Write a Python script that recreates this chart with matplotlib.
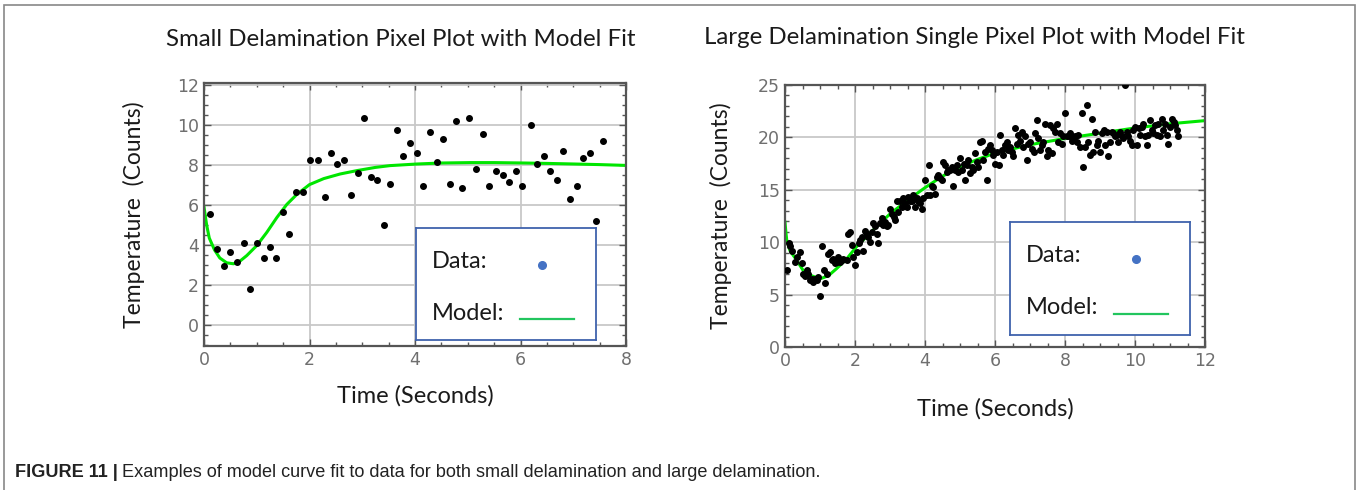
import matplotlib
matplotlib.use("Agg")
from matplotlib import pyplot as plt
from matplotlib.ticker import MultipleLocator
from matplotlib.patches import Rectangle

# ---- small delamination (left) ----
small_t = [0.11, 0.24, 0.37, 0.49, 0.62, 0.75, 0.87, 1.00, 1.13, 1.25, 1.37, 1.49,
           1.62, 1.75, 1.87, 2.00, 2.16, 2.29, 2.41, 2.53, 2.66, 2.79, 2.91, 3.03,
           3.16, 3.28, 3.41, 3.53, 3.65, 3.78, 3.91, 4.03, 4.16, 4.28, 4.41, 4.53,
           4.66, 4.78, 4.90, 5.03, 5.16, 5.28, 5.40, 5.53, 5.66, 5.78, 5.91, 6.02,
           6.19, 6.32, 6.45, 6.56, 6.69, 6.81, 6.94, 7.07, 7.19, 7.31, 7.44, 7.57]
small_v = [5.54, 3.80, 2.93, 3.67, 3.14, 4.12, 1.82, 4.12, 3.36, 3.88, 3.36, 5.65,
           4.56, 6.63, 6.63, 8.25, 8.25, 6.40, 8.60, 8.03, 8.25, 6.50, 7.60, 10.33,
           7.39, 7.27, 4.99, 7.06, 9.75, 8.46, 9.12, 8.58, 6.94, 9.65, 8.15, 9.32,
           7.06, 10.21, 6.84, 10.33, 7.82, 9.55, 6.94, 7.72, 7.49, 7.17, 7.72, 6.94,
           9.98, 8.03, 8.46, 7.72, 7.27, 8.68, 6.28, 6.94, 8.35, 8.58, 5.21, 9.22]
small_model_t = [0, 0.05, 0.1, 0.2, 0.3, 0.43, 0.56, 0.68, 0.81, 1.0, 1.19, 1.38,
                 1.57, 1.76, 2.0, 2.27, 2.58, 2.9, 3.25, 3.53, 4.04, 4.5, 5.05,
                 5.5, 6.07, 6.5, 7.02, 7.5, 8.0]
small_model_v = [5.9, 5.0, 4.35, 3.75, 3.35, 3.11, 3.06, 3.19, 3.47, 3.97, 4.63, 5.37,
                 6.03, 6.53, 7.02, 7.32, 7.55, 7.72, 7.88, 7.97, 8.05, 8.1, 8.12,
                 8.12, 8.1, 8.08, 8.05, 8.02, 7.98]

# ---- large delamination (right) ----
large_t = [0.05, 0.10, 0.14, 0.19, 0.29, 0.33, 0.43, 0.48, 0.52, 0.57, 0.62, 0.67,
           0.71, 0.76, 0.81, 0.86, 0.90, 0.95, 1.00, 1.05, 1.10, 1.14, 1.19, 1.24,
           1.29, 1.33, 1.38, 1.43, 1.48, 1.52, 1.57, 1.62, 1.67, 1.76, 1.81, 1.86,
           1.90, 1.95, 2.00, 2.05, 2.10, 2.14, 2.19, 2.24, 2.29, 2.33, 2.38, 2.43,
           2.48, 2.52, 2.57, 2.62, 2.67, 2.71, 2.76, 2.81, 2.86, 2.90, 2.95, 3.00,
           3.05, 3.10, 3.14, 3.19, 3.24, 3.29, 3.33, 3.38, 3.43, 3.48, 3.52, 3.57,
           3.62, 3.67, 3.71, 3.76, 3.81, 3.86, 3.90, 3.95, 4.00, 4.05, 4.10, 4.14,
           4.19, 4.24, 4.29, 4.33, 4.38, 4.43, 4.48, 4.52, 4.57, 4.62, 4.67, 4.71,
           4.76, 4.81, 4.86, 4.90, 4.95, 5.00, 5.05, 5.10, 5.14, 5.19, 5.24, 5.29,
           5.33, 5.38, 5.43, 5.48, 5.52, 5.57, 5.62, 5.67, 5.71, 5.76, 5.81, 5.86,
           5.90, 5.95, 6.00, 6.05, 6.10, 6.14, 6.19, 6.24, 6.29, 6.33, 6.38, 6.43,
           6.48, 6.52, 6.57, 6.62, 6.67, 6.71, 6.76, 6.81, 6.86, 6.90, 6.95, 7.00,
           7.05, 7.10, 7.14, 7.19, 7.24, 7.29, 7.33, 7.38, 7.43, 7.48, 7.52, 7.57,
           7.62, 7.67, 7.71, 7.76, 7.81, 7.86, 7.90, 7.95, 8.00, 8.05, 8.10, 8.14,
           8.19, 8.24, 8.29, 8.33, 8.38, 8.43, 8.48, 8.52, 8.57, 8.62, 8.67, 8.71,
           8.76, 8.81, 8.86, 8.90, 8.95, 9.00, 9.05, 9.10, 9.14, 9.19, 9.24, 9.29,
           9.33, 9.38, 9.43, 9.48, 9.52, 9.57, 9.62, 9.67, 9.71, 9.76, 9.81, 9.86,
           9.90, 9.95, 10.00, 10.05, 10.10, 10.14, 10.19, 10.24, 10.29, 10.33, 10.38,
           10.43, 10.48, 10.52, 10.57, 10.62, 10.67, 10.71, 10.76, 10.81, 10.86,
           10.90, 10.95, 11.00, 11.05, 11.10, 11.14, 11.19, 11.24]
large_v = [7.3, 9.9, 9.6, 9.2, 8.1, 8.6, 9.1, 8.0, 7.0, 6.8, 7.3, 7.0,
           6.4, 6.5, 6.2, 6.5, 6.4, 6.7, 4.9, 9.6, 7.3, 6.1, 7.0, 8.9,
           9.1, 8.3, 8.4, 8.0, 8.1, 8.6, 8.1, 8.3, 8.4, 8.3, 10.8, 11.0,
           9.7, 8.6, 7.8, 9.1, 9.9, 10.2, 10.5, 9.2, 11.1, 10.8, 10.5, 10.0,
           11.0, 11.8, 11.5, 10.8, 9.9, 11.8, 12.3, 11.6, 11.9, 11.5, 11.6, 13.2,
           12.7, 12.4, 12.1, 13.9, 12.9, 13.9, 13.4, 14.2, 13.7, 13.4, 14.3, 13.9,
           13.9, 14.5, 13.4, 14.2, 13.9, 13.7, 13.2, 14.2, 15.9, 14.5, 17.4, 14.5,
           15.4, 15.3, 14.6, 16.2, 16.4, 16.1, 15.9, 17.7, 17.4, 16.7, 16.9, 16.9,
           17.2, 15.4, 16.9, 17.4, 16.7, 18.0, 16.9, 17.5, 15.9, 17.4, 17.8, 16.6,
           17.2, 16.9, 18.5, 17.7, 17.2, 19.6, 19.7, 17.8, 18.6, 15.9, 18.9, 19.3,
           18.8, 18.3, 17.5, 18.6, 17.4, 20.2, 18.8, 18.3, 19.3, 19.6, 18.8, 19.1,
           18.6, 18.2, 20.9, 19.4, 20.2, 19.7, 20.5, 19.1, 20.1, 17.8, 19.4, 19.6,
           18.9, 18.6, 20.4, 21.7, 19.9, 18.8, 19.3, 19.6, 21.3, 18.2, 18.8, 21.2,
           18.5, 20.9, 20.5, 21.3, 19.6, 20.4, 19.4, 20.1, 22.3, 20.1, 20.1, 20.4,
           19.7, 19.9, 20.1, 19.6, 20.2, 19.1, 22.3, 17.2, 19.1, 23.1, 19.6, 18.3,
           21.8, 18.6, 20.5, 19.3, 19.7, 18.6, 20.4, 20.7, 19.3, 20.5, 18.2, 19.6,
           20.5, 20.4, 20.1, 20.2, 19.6, 20.5, 20.1, 19.9, 25.0, 20.5, 20.1, 19.7,
           19.3, 20.7, 21.0, 19.3, 20.9, 20.2, 21.0, 21.3, 20.1, 19.3, 20.2,
           21.7, 20.7, 20.4, 21.2, 20.2, 21.3, 20.1, 21.8, 20.7, 21.3,
           20.2, 19.4, 21.0, 21.8, 21.5, 21.2, 20.7, 20.1]
large_model_t = [0, 0.03, 0.05, 0.14, 0.33, 0.52, 0.76, 1.0, 1.24, 1.48, 1.76, 2.05,
                 2.5, 3.0, 3.5, 4.0, 4.5, 5.0, 5.5, 6.0, 6.5, 7.0, 8.0, 9.0, 10.0,
                 11.0, 12.0]
large_model_v = [11.9, 10.8, 10.2, 9.2, 8.3, 7.3, 6.8, 6.5, 6.8, 7.5, 8.4, 9.6,
                 11.1, 12.7, 14.0, 15.2, 16.3, 17.2, 17.9, 18.5, 18.9, 19.3, 19.9,
                 20.4, 20.9, 21.3, 21.6]

label_font = ['Lato', 'DejaVu Sans']
green = '#00e600'
W, H = 1357, 490


def style_axes(ax, xlim, ylim, xmaj, xmin, ymaj, ymin):
    ax.set_xlim(*xlim)
    ax.set_ylim(*ylim)
    ax.xaxis.set_major_locator(MultipleLocator(xmaj))
    ax.xaxis.set_minor_locator(MultipleLocator(xmin))
    ax.yaxis.set_major_locator(MultipleLocator(ymaj))
    ax.yaxis.set_minor_locator(MultipleLocator(ymin))
    ax.grid(True, which='major', color='#c8c8c8', linewidth=1.3)
    ax.set_axisbelow(True)
    for s in ax.spines.values():
        s.set_color('#555555')
        s.set_linewidth(1.6)
    ax.tick_params(which='both', direction='in', top=True, right=True,
                   colors='#555555', labelcolor='#6f6f6f', labelsize=12.5)
    ax.tick_params(which='major', length=5, width=1)
    ax.tick_params(which='minor', length=3, width=1)


def legend_box(rect):
    bx = fig.add_axes(rect)
    bx.set_xlim(0, 1)
    bx.set_ylim(0, 1)
    bx.set_xticks([])
    bx.set_yticks([])
    for s in bx.spines.values():
        s.set_color('#3f62ad')
        s.set_linewidth(1.3)
    bx.text(0.09, 0.70, 'Data:', fontsize=17, family=label_font, va='center', color='#1a1a1a')
    bx.text(0.09, 0.24, 'Model:', fontsize=17, family=label_font, va='center', color='#1a1a1a')
    bx.plot([0.7], [0.67], 'o', color='#4472c4', markersize=5.5)
    bx.plot([0.58, 0.88], [0.19, 0.19], color='#22c55e', linewidth=1.6)


fig = plt.figure(figsize=(W / 100, H / 100), dpi=100)

ax1 = fig.add_axes([204 / W, 1 - 346 / H, 422 / W, 263 / H])
ax1.plot(small_model_t, small_model_v, color=green, linewidth=2.2, zorder=2)
ax1.scatter(small_t, small_v, s=16, color='black', zorder=3)
style_axes(ax1, (0, 8), (-1.05, 12.1), 2, 0.5, 2, 0.5)
ax1.set_xlabel('Time (Seconds)', fontsize=17, family=label_font, color='#1a1a1a', labelpad=12)
ax1.set_ylabel('Temperature  (Counts)', fontsize=16.5, family=label_font, color='#1a1a1a', labelpad=23)
fig.text(401 / W, 1 - 40 / H, 'Small Delamination Pixel Plot with Model Fit', fontsize=17.3,
         family=label_font, color='#1a1a1a', ha='center', va='center')

ax2 = fig.add_axes([785 / W, 1 - 347 / H, 420 / W, 262 / H])
ax2.plot(large_model_t, large_model_v, color=green, linewidth=2.2, zorder=2)
ax2.scatter(large_t, large_v, s=16, color='black', zorder=3)
style_axes(ax2, (0, 12), (0, 25), 2, 0.5, 5, 1)
ax2.set_xlabel('Time (Seconds)', fontsize=17, family=label_font, color='#1a1a1a', labelpad=20)
ax2.set_ylabel('Temperature  (Counts)', fontsize=16.5, family=label_font, color='#1a1a1a', labelpad=19)
fig.text(974 / W, 1 - 37 / H, 'Large Delamination Single Pixel Plot with Model Fit', fontsize=17.3,
         family=label_font, color='#1a1a1a', ha='center', va='center')

legend_box([416 / W, 1 - 340 / H, 180 / W, 112 / H])
legend_box([1010 / W, 1 - 335 / H, 180 / W, 113 / H])

# outer frame of the figure panel
fig.patches.append(Rectangle((4 / W, -0.01), 1351 / W, 1 - 5 / H + 0.01,
                             transform=fig.transFigure, fill=False,
                             edgecolor='#888888', linewidth=1.2))

# caption
cap_font = ['Liberation Sans Narrow', 'Liberation Sans']
t1 = fig.text(15 / W, 1 - 472 / H, 'FIGURE 11 |', fontsize=13.1, fontweight='bold',
              family=cap_font, va='center', color='#222222')
renderer = fig.canvas.get_renderer()
bb = t1.get_window_extent(renderer)
fig.text((bb.x1 + 4) / fig.bbox.width, 1 - 472 / H,
         'Examples of model curve fit to data for both small delamination and large delamination.',
         fontsize=13.1, family=cap_font, va='center', color='#222222')

fig.savefig('out.png', dpi=100)
